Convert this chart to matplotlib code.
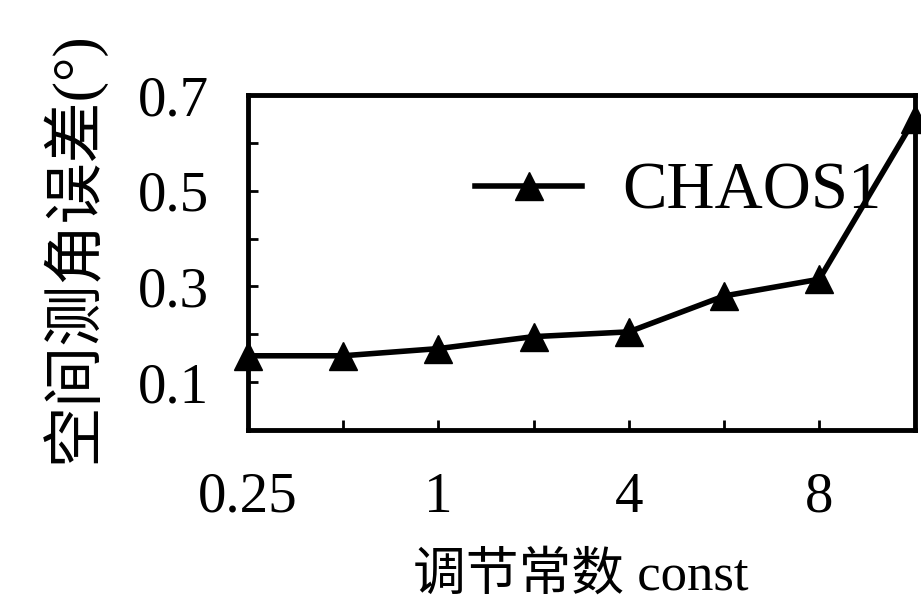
import matplotlib
matplotlib.use('Agg')
import matplotlib.pyplot as plt

# data
positions = [0, 1, 2, 3, 4, 5, 6, 7]
chaos1 = [0.155, 0.155, 0.17, 0.195, 0.205, 0.28, 0.315, 0.65]
x_tick_labels = ['0.25', '', '1', '', '4', '', '8', '']
y_ticks = [0.0, 0.1, 0.2, 0.3, 0.4, 0.5, 0.6, 0.7]
y_tick_labels = ['', '0.1', '', '0.3', '', '0.5', '', '0.7']

serif = ['Liberation Serif', 'Noto Sans CJK SC']
plt.rcParams['font.family'] = serif

fig = plt.figure(figsize=(9.21, 6.09), dpi=100)
ax = fig.add_axes([0.269, 0.294, 0.724, 0.55])

ax.plot(positions, chaos1, color='black', linewidth=4, marker='^',
        markersize=20, label='CHAOS1', clip_on=False, zorder=3)

ax.set_xlim(0, 7)
ax.set_ylim(0, 0.7)
ax.set_xticks(positions)
ax.set_xticklabels(x_tick_labels)
ax.set_yticks(y_ticks)
ax.set_yticklabels(y_tick_labels)
ax.tick_params(direction='in', length=7, width=2, labelsize=41)
ax.tick_params(axis='x', pad=30)
ax.tick_params(axis='y', pad=28)
for s in ax.spines.values():
    s.set_linewidth(3.5)

ax.set_xlabel('调节常数 const', fontsize=38, family=serif, labelpad=20)
ax.set_ylabel('空间测角误差(°)', fontsize=44, family=serif)
ax.yaxis.set_label_coords(-0.215, 0.545)

ax.legend(loc='upper right', frameon=False, fontsize=48, handlelength=1.6,
          handletextpad=0.6, borderaxespad=0, bbox_to_anchor=(0.99, 0.88))

fig.savefig('out.png', dpi=100)
